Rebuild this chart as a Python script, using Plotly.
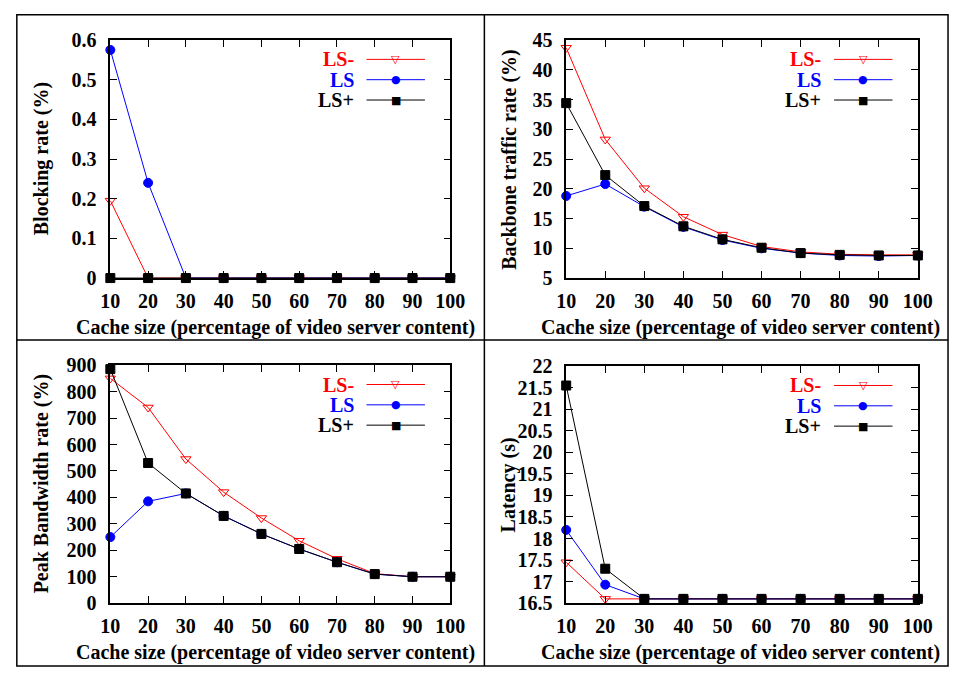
import plotly.graph_objects as go

W, H = 964, 680

cache = [10, 20, 30, 40, 50, 60, 70, 80, 90, 100]
series_names = ["LS-", "LS", "LS+"]

blocking_lsm = [0.195, 0, 0, 0, 0, 0, 0, 0, 0, 0]
blocking_ls = [0.575, 0.24, 0, 0, 0, 0, 0, 0, 0, 0]
blocking_lsp = [0, 0, 0, 0, 0, 0, 0, 0, 0, 0]

backbone_lsm = [43.7, 28.3, 20.1, 15.3, 12.3, 10.3, 9.4, 9.0, 8.9, 8.9]
backbone_ls = [18.8, 20.8, 17.0, 13.6, 11.4, 10.0, 9.2, 8.8, 8.7, 8.8]
backbone_lsp = [34.4, 22.3, 17.1, 13.7, 11.5, 10.1, 9.2, 8.9, 8.8, 8.8]

peak_lsm = [850, 740, 545, 420, 322, 236, 168, 112, 100, 100]
peak_ls = [250, 385, 415, 330, 262, 205, 155, 110, 100, 100]
peak_lsp = [885, 530, 415, 330, 262, 205, 155, 110, 100, 100]

latency_lsm = [17.45, 16.6, 16.6, 16.6, 16.6, 16.6, 16.6, 16.6, 16.6, 16.6]
latency_ls = [18.2, 16.93, 16.6, 16.6, 16.6, 16.6, 16.6, 16.6, 16.6, 16.6]
latency_lsp = [21.55, 17.3, 16.6, 16.6, 16.6, 16.6, 16.6, 16.6, 16.6, 16.6]

y_titles = ["Blocking rate (%)", "Backbone traffic rate (%)",
            "Peak Bandwidth rate (%)", "Latency (s)"]
x_title = "Cache size (percentage of video server content)"

panels = [
    dict(data=[blocking_lsm, blocking_ls, blocking_lsp], yr=[0, 0.6], dt=0.1,
         px=(103, 452), py=(30, 276)),
    dict(data=[backbone_lsm, backbone_ls, backbone_lsp], yr=[5, 45], dt=5,
         px=(571, 932), py=(30, 276)),
    dict(data=[peak_lsm, peak_ls, peak_lsp], yr=[0, 900], dt=100,
         px=(103, 452), py=(366, 612)),
    dict(data=[latency_lsm, latency_ls, latency_lsp], yr=[16.5, 22], dt=0.5,
         px=(571, 932), py=(367, 612)),
]

colors = ["#ff0000", "#0000ff", "#000000"]
symbols = ["triangle-down-open", "circle", "square"]
msizes = [9, 9, 9]
glyphs = ["▽", "●", "■"]

FONT = "Liberation Serif"

def fx(p):
    return p / W

def fy(p):
    return 1 - p / H

fig = go.Figure()
layout = dict(
    width=W, height=H, margin=dict(l=0, r=0, t=0, b=0),
    paper_bgcolor="white", plot_bgcolor="white", showlegend=False,
    font=dict(family=FONT, size=20, color="black", weight="bold"),
)
annotations = []
shapes = []

for i, p in enumerate(panels):
    n = i + 1
    xa = "x" if n == 1 else f"x{n}"
    ya = "y" if n == 1 else f"y{n}"
    for k in range(3):
        fig.add_trace(go.Scatter(
            x=cache, y=p["data"][k], mode="lines+markers", name=series_names[k],
            xaxis=xa, yaxis=ya, cliponaxis=False,
            line=dict(color=colors[k], width=1),
            marker=dict(symbol=symbols[k], size=msizes[k], color=colors[k],
                        line=dict(color=colors[k], width=1)),
        ))
    axcommon = dict(showgrid=False, zeroline=False, showline=True, linecolor="black",
                    linewidth=1.5, mirror="ticks", ticks="inside", ticklen=7,
                    tickwidth=1, tickcolor="black",
                    tickfont=dict(family=FONT, size=20, weight="bold"))
    layout[f"xaxis{n}" if n > 1 else "xaxis"] = dict(
        axcommon, domain=[fx(p["px"][0]), fx(p["px"][1])], range=[10, 100],
        tickmode="linear", tick0=10, dtick=10, anchor=ya, ticklabelstandoff=4)
    layout[f"yaxis{n}" if n > 1 else "yaxis"] = dict(
        axcommon, domain=[fy(p["py"][1]), fy(p["py"][0])], range=p["yr"],
        tickmode="linear", tick0=p["yr"][0], dtick=p["dt"], anchor=xa,
        ticklabelstandoff=8)

    cy = (p["py"][0] + p["py"][1]) / 2
    ytx = 32 if p["px"][0] < 400 else 512
    annotations.append(dict(text=y_titles[i], x=fx(ytx), y=fy(cy), xref="paper",
                            yref="paper", showarrow=False, textangle=-90,
                            xanchor="center", yanchor="middle",
                            font=dict(family=FONT, size=20, weight="bold")))
    xtx = 273 if p["px"][0] < 400 else 750
    annotations.append(dict(text=x_title, x=fx(xtx), y=fy(p["py"][1] + 51),
                            xref="paper", yref="paper", showarrow=False,
                            xanchor="center", yanchor="middle",
                            font=dict(family=FONT, size=20, weight="bold")))
    # legend (drawn manually: label left, sample right)
    R, T = p["px"][1], p["py"][0]
    for k in range(3):
        ry = T + 20 + k * 21
        annotations.append(dict(text=series_names[k], x=fx(R - 98), y=fy(ry),
                                xref="paper", yref="paper", showarrow=False,
                                xanchor="right", yanchor="middle", borderpad=0,
                                font=dict(family=FONT, size=20, weight="bold",
                                          color=colors[k])))
        shapes.append(dict(type="line", xref="paper", yref="paper",
                           x0=fx(R - 86), x1=fx(R - 26), y0=fy(ry), y1=fy(ry),
                           line=dict(color=colors[k], width=1)))
        annotations.append(dict(text=glyphs[k], x=fx(R - 56), y=fy(ry),
                                xref="paper", yref="paper", showarrow=False,
                                xanchor="center", yanchor="middle", borderpad=0,
                                font=dict(family="DejaVu Sans", size=11,
                                          color=colors[k])))

shapes.append(dict(type="rect", xref="paper", yref="paper", x0=fx(7), x1=fx(963),
                   y0=fy(677), y1=fy(4), line=dict(color="black", width=1.5)))
shapes.append(dict(type="line", xref="paper", yref="paper", x0=fx(487), x1=fx(487),
                   y0=fy(677), y1=fy(4), line=dict(color="black", width=1.5)))
shapes.append(dict(type="line", xref="paper", yref="paper", x0=fx(7), x1=fx(963),
                   y0=fy(340), y1=fy(340), line=dict(color="black", width=1.5)))

layout["annotations"] = annotations
layout["shapes"] = shapes
fig.update_layout(**layout)
fig.write_html("out.html")
